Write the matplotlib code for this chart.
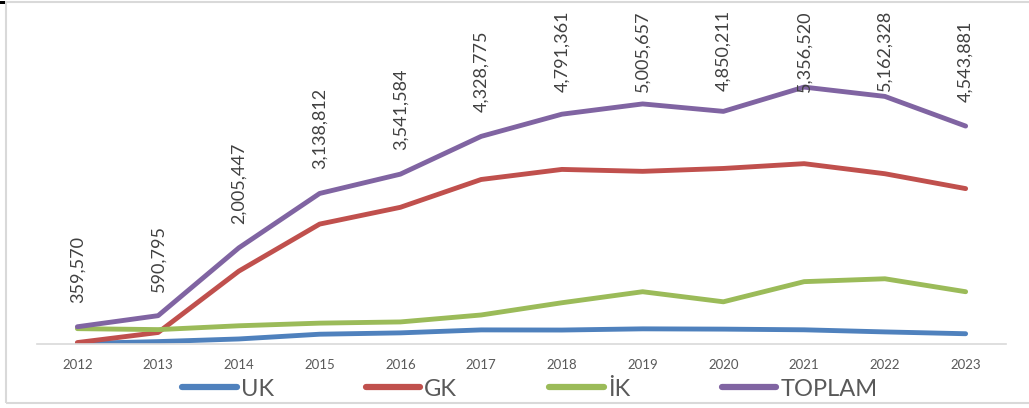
import matplotlib
matplotlib.use("Agg")
import matplotlib.pyplot as plt
from matplotlib.patches import Rectangle
from matplotlib.transforms import IdentityTransform

years = ["2012", "2013", "2014", "2015", "2016", "2017", "2018", "2019", "2020", "2021", "2022", "2023"]
uk = [10000, 50000, 105000, 204000, 232000, 294000, 291000, 316000, 310000, 296000, 252000, 214000]
gk = [30000, 240000, 1520000, 2500000, 2850000, 3430000, 3640000, 3600000, 3660000, 3760000, 3550000, 3240000]
ik = [320000, 300000, 380000, 435000, 460000, 605000, 860000, 1090000, 880000, 1300000, 1360000, 1090000]
toplam = [359570, 590795, 2005447, 3138812, 3541584, 4328775, 4791361, 5005657, 4850211, 5356520, 5162328, 4543881]
series_names = ["UK", "GK", "İK", "TOPLAM"]

colors = ["#4F81BD", "#C0504D", "#9BBB59", "#8064A2"]
W, H = 1029, 408
plt.rcParams['font.family'] = ['Lato', 'DejaVu Sans']

fig = plt.figure(figsize=(W / 100, H / 100), dpi=100)
# axes: x from 37 to 1006 px, y from 344 (bottom) to 10 (top)
ax = fig.add_axes([37 / W, (H - 344) / H, (1006 - 37) / W, (344 - 10) / H])
ymax = (344 - 10) * 20850
ax.set_ylim(0, ymax)
ax.set_xlim(-0.5, len(years) - 0.5)
x = list(range(len(years)))

for vals, c, name in zip([uk, gk, ik, toplam], colors, series_names):
    ax.plot(x, vals, color=c, lw=3.5, solid_capstyle='round', solid_joinstyle='round', label=name)

for s in ['top', 'right', 'left']:
    ax.spines[s].set_visible(False)
ax.spines['bottom'].set_color('#D9D9D9')
ax.spines['bottom'].set_linewidth(1.2)
ax.set_yticks([])
ax.set_xticks(x)
ax.set_xticklabels(years, fontsize=9.5, color='#595959')
ax.tick_params(axis='x', length=0, pad=11)

# data labels for TOPLAM, rotated, clamped to stay in chart area
fig.canvas.draw()
renderer = fig.canvas.get_renderer()
for i, v in enumerate(toplam):
    px, py = ax.transData.transform((i, v))
    t = fig.text(0, 0, f"{v:,}", rotation=90, fontsize=13, color='#404040',
                 ha='center', va='bottom', transform=IdentityTransform())
    bb = t.get_window_extent(renderer)
    L = bb.height
    bottom = py + 24
    top_limit = H - 10
    if bottom + L > top_limit:
        bottom = top_limit - L
    t.set_position((px, bottom))

leg = fig.legend(loc='center', bbox_to_anchor=(530 / W, (H - 389) / H), ncol=4, frameon=False,
                 fontsize=17, handlelength=2.3, handletextpad=0.17, columnspacing=3.9,
                 labelcolor='#595959', borderpad=0.1)
for line in leg.get_lines():
    line.set_linewidth(4.5)

# chart frame
fig.patches.append(Rectangle((5.5 / W, (H - 402.5) / H), (W + 10) / W, (401) / H,
                             transform=fig.transFigure, fill=False, edgecolor='#D9D9D9', lw=1.5))
fig.patches.append(Rectangle((0, (H - 4) / H), 5 / W, 3 / H, transform=fig.transFigure,
                             facecolor='black', edgecolor='none'))

fig.savefig("out.png", dpi=100)
